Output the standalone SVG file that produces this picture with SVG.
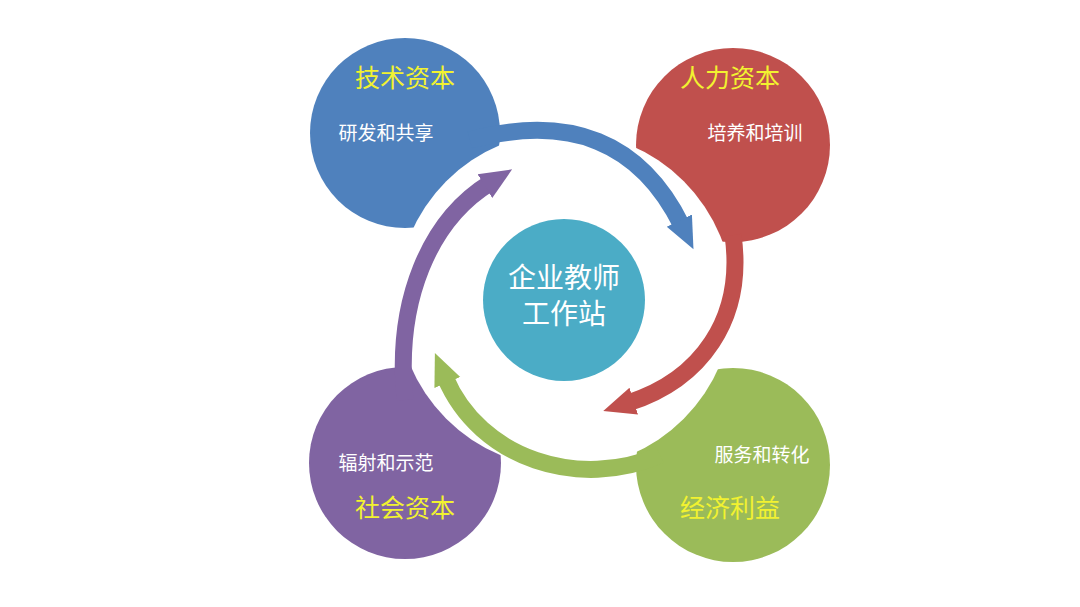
<svg xmlns="http://www.w3.org/2000/svg" width="1080" height="607" viewBox="0 0 1080 607">
<style>
.t{font-family:"Liberation Sans","Noto Sans CJK SC",sans-serif;text-anchor:middle}
.h{fill:#f2f230;font-size:25px}
.s{fill:#ffffff;font-size:19px}
.c{fill:#ffffff;font-size:28px}
.a{fill:none;stroke-width:17}
</style>
<defs>
<marker id="mb" markerUnits="userSpaceOnUse" markerWidth="40" markerHeight="40" refX="6" refY="18" orient="auto"><path d="M0,4 L32,18 L0,32 Z" fill="#4f81bd"/></marker>
<marker id="mr" markerUnits="userSpaceOnUse" markerWidth="40" markerHeight="40" refX="6" refY="18" orient="auto"><path d="M0,4 L32,18 L0,32 Z" fill="#c0504d"/></marker>
<marker id="mg" markerUnits="userSpaceOnUse" markerWidth="40" markerHeight="40" refX="6" refY="18" orient="auto"><path d="M0,4 L32,18 L0,32 Z" fill="#9bbb59"/></marker>
<marker id="mp" markerUnits="userSpaceOnUse" markerWidth="40" markerHeight="40" refX="6" refY="18" orient="auto"><path d="M0,4 L32,18 L0,32 Z" fill="#8064a2"/></marker>
</defs>
<rect width="1080" height="607" fill="#ffffff"/>
<g id="tech"><circle cx="405" cy="133" r="95" fill="#4f81bd"/></g>
<g id="human"><circle cx="733" cy="145" r="97" fill="#c0504d"/></g>
<g id="social"><circle cx="405" cy="463" r="96" fill="#8064a2"/></g>
<g id="econ"><circle cx="733" cy="465" r="97" fill="#9bbb59"/></g>
<circle cx="565" cy="300" r="168" fill="#ffffff"/>
<g id="connectors">
<path class="a" stroke="#4f81bd" d="M470,140 Q620,100 682,226" marker-end="url(#mb)"/>
<path class="a" stroke="#c0504d" d="M733,235 C745,320 700,380 628,403" marker-end="url(#mr)"/>
<path class="a" stroke="#9bbb59" d="M660,455 C580,490 480,460 445,377" marker-end="url(#mg)"/>
<path class="a" stroke="#8064a2" stroke-width="12" d="M405,400 C395,300 430,220 490,183" marker-end="url(#mp)"/>
</g>
<g id="center"><circle cx="564" cy="300" r="81" fill="#4bacc6"/>
<text class="t c" x="564" y="288">企业教师</text>
<text class="t c" x="564" y="324">工作站</text></g>
<text class="t h" x="405" y="87">技术资本</text>
<text class="t s" x="386" y="140">研发和共享</text>
<text class="t h" x="730" y="87">人力资本</text>
<text class="t s" x="755" y="140">培养和培训</text>
<text class="t s" x="386" y="470">辐射和示范</text>
<text class="t h" x="405" y="517">社会资本</text>
<text class="t s" x="762" y="462">服务和转化</text>
<text class="t h" x="730" y="517">经济利益</text>
</svg>
